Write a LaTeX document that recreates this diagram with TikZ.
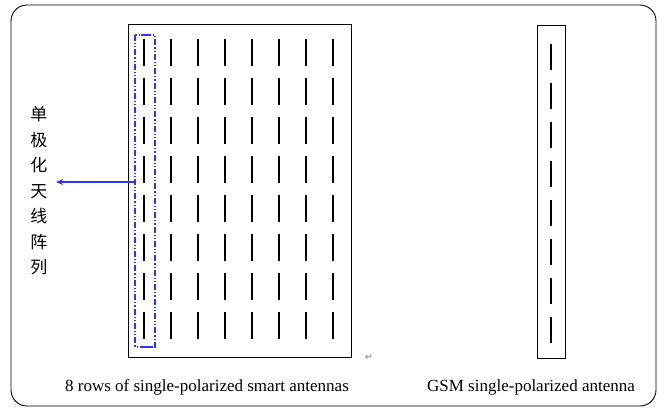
\documentclass[tikz,border=0pt]{standalone}
\usepackage{fontspec}
\setmainfont{Liberation Serif}
\newfontfamily\cjk{Noto Sans CJK SC}
\newfontfamily\symf{DejaVu Sans}
\usetikzlibrary{arrows.meta}
\definecolor{arrowblue}{RGB}{50,50,255}
\tikzset{
  elem/.style={line width=2.6pt, black},
  gsmelem/.style={line width=2.2pt, black},
  frame/.style={draw=black, line width=0.9pt},
  caption/.style={font=\fontsize{17}{18}\selectfont, inner sep=0pt, anchor=center},
  cjktext/.style={font=\cjk\fontsize{17}{25.5}\selectfont, align=center, inner sep=0pt}
}
\begin{document}
\begin{tikzpicture}[x=1pt,y=-1pt]
\useasboundingbox (0,0) rectangle (672,416);
% outer frame
\draw[frame, rounded corners=16pt] (11,5) rectangle (656,406);
% left array box
\draw[frame] (128,24) rectangle (351,357);
% elements 8x8
\foreach \c in {0,...,7}{
  \foreach \r in {0,...,7}{
    \draw[elem] ({144+27*\c},{39+39*\r}) -- ({144+27*\c},{66+39*\r});
  }
}
% blue dash-dot selection
\draw[arrowblue, line width=1.2pt, dash pattern=on 6pt off 2pt on 1.2pt off 2pt on 1.2pt off 2pt]
  (135,35) rectangle (155,347);
\draw[arrowblue, line width=1.5pt] (141,35) -- (151,35);
\draw[arrowblue, line width=1.5pt] (141,347) -- (153,347);
\coordinate (selL) at (134,182);
% label
\node[cjktext] (label) at (39,191) {单\\极\\化\\天\\线\\阵\\列};
\draw[arrowblue, line width=1.2pt, -{Stealth[length=7pt,width=6pt]}] (selL) -- (56,182);
% return mark
\node[font=\symf\fontsize{10}{10}\selectfont, text=gray, inner sep=0pt] (ret) at (369,357) {↵};
% GSM antenna
\draw[frame] (537,25) rectangle (565,358);
\foreach \r in {0,...,7}{
  \draw[gsmelem] (551,{44+39*\r}) -- (551,{70+39*\r});
}
% captions
\node[caption] (cap1) at (207,387) {8 rows of single-polarized smart antennas};
\node[caption] (cap2) at (531,387) {GSM single-polarized antenna};
\end{tikzpicture}
\end{document}
